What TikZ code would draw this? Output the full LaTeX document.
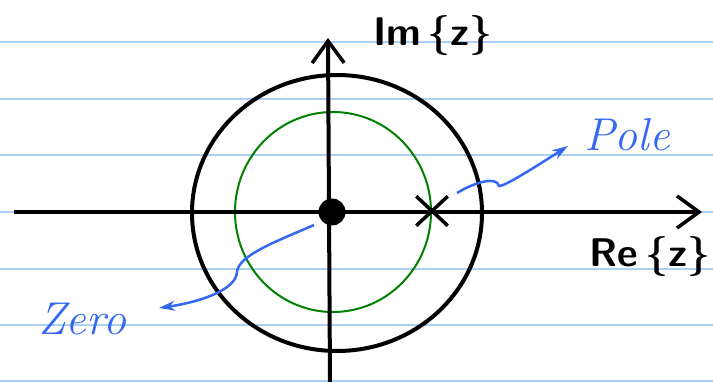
\documentclass[tikz,border=0pt]{standalone}
\usepackage{tikz}
\usetikzlibrary{arrows.meta, shapes.misc}
\definecolor{ruled}{RGB}{170,208,248}
\definecolor{penblue}{RGB}{52,104,240}
\definecolor{pengreen}{RGB}{0,128,0}

\begin{document}
\begin{tikzpicture}[x=1pt, y=-1pt,
    axis/.style={line width=4pt, -{Straight Barb[length=22pt, width=32pt, line width=3.5pt]}},
    note/.style={penblue, line width=2.5pt, -{Stealth[length=16pt, width=10pt]}},
    blacklabel/.style={font=\fontsize{40}{44}\selectfont\bfseries\sffamily, inner sep=0pt},
    bluelabel/.style={text=penblue, font=\fontsize{46}{50}\selectfont\itshape, inner sep=0pt}]
  \useasboundingbox (0,0) rectangle (713,382);

  % ruled notebook lines
  \foreach \y in {42,99,155,212,269,325,381}
    \draw[ruled, line width=2pt] (0,\y) -- (713,\y);

  % unit circle and inner circle
  \draw[line width=4pt] (337,213) ellipse [x radius=145, y radius=138];
  \draw[pengreen, line width=2pt] (333,212) ellipse [x radius=98, y radius=100];

  % axes
  \coordinate (reL) at (14,212);
  \coordinate (reR) at (702,212);
  \coordinate (imB) at (330,382);
  \coordinate (imT) at (328,38);
  \draw[axis] (reL) -- (reR);
  \draw[axis] (imB) -- (imT);

  % zero and pole
  \node[circle, fill=black, minimum width=27pt, minimum height=22pt, inner sep=0pt] (zero) at (332,212) {};
  \node[cross out, draw=black, line width=3.5pt, minimum width=28pt, minimum height=26pt, inner sep=0pt] (pole) at (432,211) {};

  % labels
  \node[blacklabel] (imlab) at (433,36) {Im\,\{z\}};
  \node[blacklabel] (relab) at (650,257) {Re\,\{z\}};
  \node[bluelabel] (polelab) at (627,135) {Pole};
  \node[bluelabel] (zerolab) at (82,319) {Zero};

  % annotation arrows
  \coordinate (poleA) at (457,193);
  \coordinate (poleB) at (568,146);
  \draw[note] (poleA) .. controls (475,182) and (497,176) .. (499,186)
    .. controls (503,186) and (515,180) .. (poleB);
  \coordinate (zeroA) at (314,225);
  \coordinate (zeroB) at (159,308);
  \draw[note] (zeroA) .. controls (280,240) and (238,255) .. (237,272)
    .. controls (236,290) and (200,302) .. (zeroB);
\end{tikzpicture}
\end{document}
